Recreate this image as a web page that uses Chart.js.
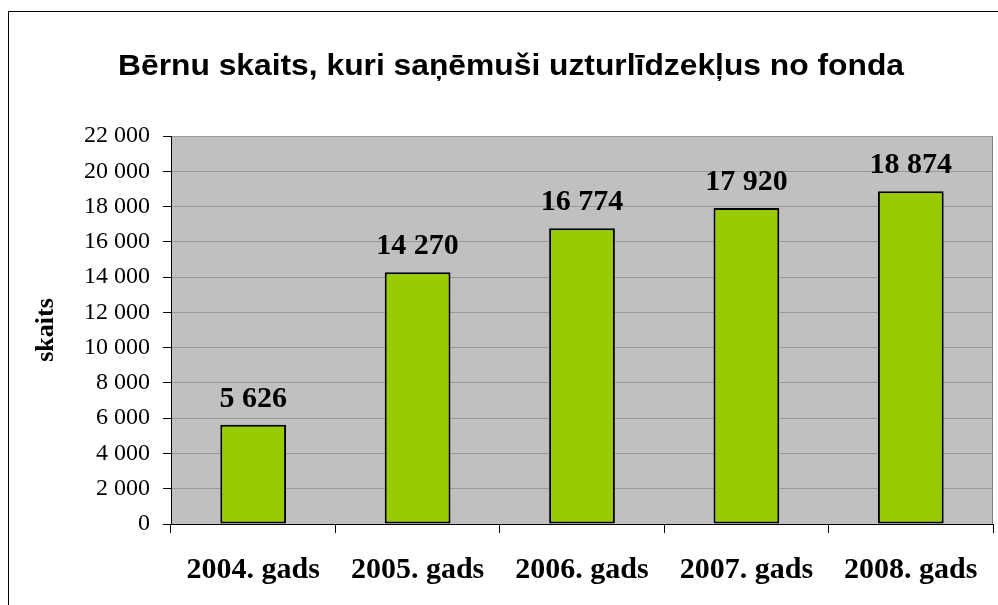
<!DOCTYPE html>
<html lang="lv">
<head>
    <meta charset="UTF-8">
    <title>Bērnu skaits</title>
    <script src="https://cdn.jsdelivr.net/npm/chart.js"></script>
    <style>
        body { margin: 0; background: #fff; overflow: hidden; }
        #frame { position: absolute; left: 8px; top: 11px; width: 1028px; height: 600px; border: 1px solid #000; }
    </style>
</head>
<body>
    <div id="frame">
        <canvas id="barChart" width="1028" height="600"></canvas>
    </div>

    <script>
    const chartTitle = "Bērnu skaits, kuri saņēmuši uzturlīdzekļus no fonda";
    const years = ["2004. gads", "2005. gads", "2006. gads", "2007. gads", "2008. gads"];
    const childCounts = [5626, 14270, 16774, 17920, 18874];
    const yTicks = [0, 2000, 4000, 6000, 8000, 10000, 12000, 14000, 16000, 18000, 20000, 22000];

    const serif = '"Liberation Serif", "Times New Roman", serif';
    const sans = '"Liberation Sans", Arial, sans-serif';

    // 14270 -> "14 270"
    function fmt(v) {
        return String(v).replace(/\B(?=(\d{3})+(?!\d))/g, " ");
    }

    // grey plot area + its border
    const plotBg = {
        id: "plotBg",
        beforeDraw(chart) {
            const { ctx, chartArea: a } = chart;
            ctx.save();
            ctx.fillStyle = "#C0C0C0";
            ctx.fillRect(a.left, a.top, a.right - a.left, a.bottom - a.top);
            ctx.strokeStyle = "#808080";
            ctx.lineWidth = 1;
            ctx.strokeRect(a.left + 0.5, a.top + 0.5, a.right - a.left - 1, a.bottom - a.top);
            ctx.restore();
        }
    };

    // title is drawn by hand so it can sit off-centre and a bit wider, like the original
    const titleText = {
        id: "titleText",
        afterDraw(chart) {
            const ctx = chart.ctx;
            ctx.save();
            ctx.font = "bold 29px " + sans;
            ctx.fillStyle = "#000";
            ctx.textAlign = "center";
            ctx.textBaseline = "alphabetic";
            const w = ctx.measureText(chartTitle).width;
            const sx = 786 / w;
            ctx.translate(502, 63);
            ctx.scale(sx, 1);
            ctx.fillText(chartTitle, 0, 0);
            ctx.restore();
        }
    };

    // values above the bars
    const valueLabels = {
        id: "valueLabels",
        afterDatasetsDraw(chart) {
            const ctx = chart.ctx;
            const meta = chart.getDatasetMeta(0);
            ctx.save();
            ctx.font = "bold 30px " + serif;
            ctx.fillStyle = "#000";
            ctx.textAlign = "center";
            ctx.textBaseline = "alphabetic";
            meta.data.forEach((bar, i) => {
                ctx.fillText(fmt(childCounts[i]), bar.x, bar.y - 18);
            });
            ctx.restore();
        }
    };

    new Chart(document.getElementById("barChart"), {
        type: "bar",
        data: {
            labels: years,
            datasets: [{
                label: "skaits",
                data: childCounts,
                backgroundColor: "#99CC00",
                borderColor: "#000",
                borderWidth: 2,
                borderSkipped: false,
                barPercentage: 0.4,
                categoryPercentage: 1.0
            }]
        },
        options: {
            responsive: false,
            animation: false,
            devicePixelRatio: 1,
            layout: { padding: { top: 124, right: 44, bottom: 0, left: 0 } },
            plugins: {
                legend: { display: false },
                title: { display: false },
                tooltip: { enabled: false }
            },
            scales: {
                x: {
                    offset: true,
                    grid: {
                        offset: true,
                        drawOnChartArea: false,
                        drawTicks: true,
                        tickLength: 9,
                        tickColor: "#000",
                        color: "#000"
                    },
                    border: { color: "#000", width: 1 },
                    ticks: {
                        color: "#000",
                        padding: 19,
                        font: { family: serif, size: 30, weight: "bold" },
                        maxRotation: 0
                    },
                    afterFit(s) { s.height = 88; }
                },
                y: {
                    min: 0,
                    max: 22000,
                    afterBuildTicks(s) { s.ticks = yTicks.map(v => ({ value: v })); },
                    grid: {
                        color: c => (c.tick && c.tick.value === 0 ? "#000" : "#999999"),
                        lineWidth: 1,
                        drawTicks: true,
                        tickLength: 8,
                        tickColor: "#000"
                    },
                    border: { color: "#000", width: 1 },
                    ticks: {
                        color: "#000",
                        padding: 13,
                        font: { family: serif, size: 24 },
                        callback: v => fmt(v)
                    },
                    title: {
                        display: true,
                        text: "skaits",
                        color: "#000",
                        font: { family: serif, size: 26, weight: "bold" },
                        padding: { top: 21.5, bottom: 0 }
                    },
                    afterFit(s) { s.width = 162; }
                }
            }
        },
        plugins: [plotBg, titleText, valueLabels]
    });
    </script>
</body>
</html>
